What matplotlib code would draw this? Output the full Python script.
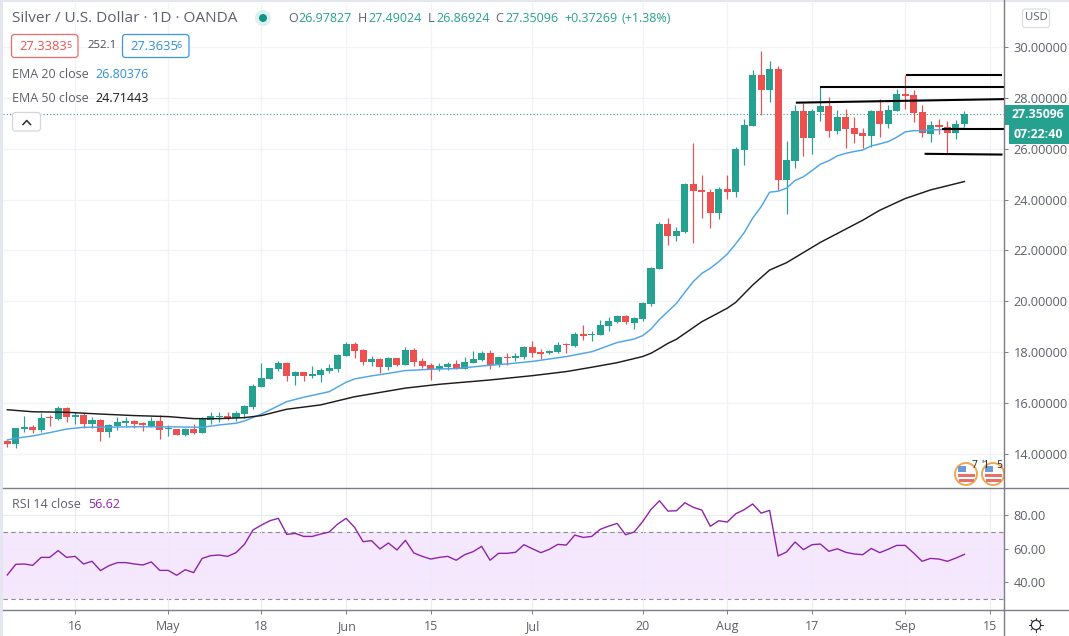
"""Silver / USD daily candles with EMA 20/50, hand-drawn levels and an RSI pane."""
import numpy as np
import matplotlib
matplotlib.use("Agg")
import matplotlib.pyplot as plt
from matplotlib.patches import Circle, FancyBboxPatch, Rectangle

plt.rcParams["font.family"] = ["Open Sans", "DejaVu Sans"]

opens = [14.50, 14.41, 15.00, 15.06, 14.94, 15.43, 15.38, 15.81, 15.45, 15.53,
         15.19, 15.34, 14.88, 15.10, 15.23, 15.30, 15.21, 15.11, 15.30, 14.97,
         14.98, 14.75, 14.98, 14.83, 15.34, 15.44, 15.48, 15.40, 15.57, 15.86,
         16.65, 16.96, 17.35, 17.58, 17.08, 17.22, 17.08, 17.12, 17.28, 17.35,
         17.87, 18.32, 18.09, 17.63, 17.74, 17.43, 17.77, 17.51, 18.09, 17.64,
         17.50, 17.34, 17.43, 17.54, 17.36, 17.59, 17.70, 17.97, 17.50, 17.83,
         17.79, 17.83, 18.19, 18.00, 17.96, 18.02, 18.31, 18.25, 18.71, 18.67,
         18.68, 19.03, 19.20, 19.43, 19.16, 19.31, 19.90, 21.29, 23.04, 22.58,
         22.73, 24.62, 24.38, 24.30, 23.49, 24.41, 24.30, 25.95, 26.90, 28.90,
         28.29, 29.14, 24.77, 25.53, 27.49, 26.44, 27.46, 27.68, 26.71, 27.24,
         26.80, 26.61, 26.50, 27.49, 26.97, 27.50, 28.15, 28.11, 27.45, 26.59,
         26.92, 26.84, 26.63, 26.98]
highs = [14.55, 15.04, 15.49, 15.14, 15.63, 15.53, 15.89, 15.83, 15.66, 15.63,
         15.44, 15.36, 15.16, 15.44, 15.44, 15.34, 15.27, 15.44, 15.52, 15.14,
         15.00, 15.01, 15.17, 15.47, 15.66, 15.66, 15.65, 15.70, 15.93, 16.75,
         17.59, 17.40, 17.67, 17.60, 17.28, 17.24, 17.46, 17.37, 17.54, 17.93,
         18.40, 18.42, 18.11, 17.85, 17.76, 17.80, 17.79, 18.19, 18.15, 17.77,
         17.56, 17.56, 17.63, 17.70, 17.83, 18.05, 18.05, 18.09, 17.81, 17.98,
         17.96, 18.25, 18.44, 18.12, 18.09, 18.42, 18.35, 18.80, 19.07, 18.84,
         19.27, 19.37, 19.48, 19.47, 19.40, 19.96, 21.37, 23.10, 23.29, 22.91,
         24.64, 26.24, 24.97, 24.41, 24.48, 24.97, 26.06, 27.17, 29.10, 29.84,
         29.43, 29.26, 26.31, 27.72, 27.79, 27.55, 28.44, 28.02, 27.53, 27.55,
         27.24, 26.80, 27.53, 27.94, 27.72, 28.35, 28.90, 28.31, 27.72, 27.07,
         27.17, 27.09, 27.13, 27.49]
lows = [14.29, 14.25, 14.88, 14.84, 14.88, 15.10, 15.34, 15.27, 15.18, 15.01,
        15.01, 14.51, 14.68, 14.94, 15.05, 15.01, 14.92, 15.05, 14.60, 14.71,
        14.73, 14.71, 14.80, 14.81, 15.18, 15.27, 15.34, 15.31, 15.40, 15.77,
        16.63, 16.94, 17.26, 16.87, 16.71, 16.87, 16.97, 16.84, 17.17, 17.24,
        17.85, 17.79, 17.50, 17.46, 17.20, 17.30, 17.47, 17.49, 17.47, 17.39,
        16.91, 17.28, 17.30, 17.33, 17.33, 17.56, 17.66, 17.33, 17.43, 17.49,
        17.67, 17.74, 17.83, 17.74, 17.93, 17.96, 17.98, 18.22, 18.48, 18.46,
        18.66, 18.85, 19.15, 19.10, 18.91, 19.24, 19.82, 21.27, 22.22, 22.37,
        22.68, 22.31, 23.29, 22.90, 23.25, 24.03, 24.12, 25.36, 26.88, 27.33,
        27.83, 24.38, 23.44, 25.26, 25.72, 25.78, 27.07, 26.45, 26.58, 26.02,
        26.21, 26.02, 26.06, 26.45, 26.80, 27.48, 27.56, 27.04, 26.48, 26.28,
        26.58, 25.80, 26.40, 26.87]
closes = [14.39, 15.01, 15.06, 14.94, 15.40, 15.40, 15.82, 15.45, 15.53, 15.18,
          15.34, 14.88, 15.14, 15.25, 15.30, 15.19, 15.14, 15.30, 14.96, 15.00,
          14.76, 14.98, 14.83, 15.40, 15.49, 15.48, 15.39, 15.60, 15.89, 16.67,
          16.99, 17.38, 17.58, 17.08, 17.22, 17.08, 17.13, 17.30, 17.38, 17.89,
          18.32, 18.06, 17.63, 17.74, 17.42, 17.77, 17.51, 18.09, 17.63, 17.47,
          17.34, 17.46, 17.54, 17.37, 17.60, 17.74, 17.96, 17.50, 17.80, 17.79,
          17.85, 18.19, 17.98, 17.94, 18.05, 18.27, 18.29, 18.72, 18.65, 18.72,
          19.07, 19.23, 19.43, 19.18, 19.35, 19.94, 21.33, 23.04, 22.58, 22.77,
          24.62, 24.35, 24.28, 23.49, 24.41, 24.31, 25.99, 26.94, 28.90, 28.29,
          29.14, 24.77, 25.56, 27.49, 26.44, 27.49, 27.68, 26.71, 27.24, 26.79,
          26.59, 26.50, 27.49, 26.97, 27.53, 28.15, 28.09, 27.42, 26.61, 26.94,
          26.84, 26.63, 26.97, 27.35]

ema20_idx = [0, 1, 3, 5, 7, 9, 11, 15, 19, 23, 25, 27, 28, 30, 31, 33, 35, 38, 40,
             41, 43, 45, 47, 50, 53, 57, 59, 62, 66, 69, 72, 74, 75, 76, 77, 79,
             80, 81, 82, 83, 84, 85, 86, 87, 88, 89, 90, 91, 92, 93, 94, 95, 96,
             97, 98, 99, 100, 101, 102, 103, 104, 105, 106, 107, 108, 109, 110,
             111, 112, 113]
ema20_val = [14.55, 14.62, 14.71, 14.84, 14.98, 15.05, 15.05, 15.07, 15.07, 15.05,
             15.14, 15.21, 15.30, 15.57, 15.73, 16.06, 16.23, 16.45, 16.82, 16.95,
             17.07, 17.17, 17.28, 17.33, 17.36, 17.49, 17.54, 17.64, 17.83, 18.02,
             18.38, 18.52, 18.65, 18.91, 19.29, 19.92, 20.36, 20.78, 21.10, 21.30,
             21.56, 21.86, 22.26, 22.70, 23.27, 23.72, 24.29, 24.33, 24.45, 24.75,
             24.90, 25.14, 25.39, 25.53, 25.72, 25.82, 25.89, 25.95, 26.11, 26.19,
             26.28, 26.45, 26.66, 26.71, 26.71, 26.74, 26.75, 26.76, 26.79, 26.80]
ema50_idx = [0, 3, 7, 11, 15, 19, 22, 25, 28, 30, 33, 37, 41, 47, 51, 57, 62, 66,
             69, 72, 75, 76, 77, 78, 79, 80, 82, 85, 86, 88, 90, 92, 94, 96, 101,
             103, 106, 109, 113]
ema50_val = [15.74, 15.66, 15.64, 15.57, 15.51, 15.47, 15.39, 15.39, 15.43, 15.51,
             15.76, 15.93, 16.25, 16.59, 16.74, 16.91, 17.08, 17.24, 17.41, 17.59,
             17.83, 17.96, 18.15, 18.35, 18.51, 18.74, 19.20, 19.73, 19.96, 20.64,
             21.23, 21.52, 21.92, 22.32, 23.19, 23.58, 24.04, 24.38, 24.71]

rsi_val = [44.4, 50.7, 50.9, 50.1, 54.8, 54.8, 58.8, 54.8, 55.4, 50.9,
           52.5, 47.0, 49.9, 51.7, 51.7, 50.9, 50.3, 52.1, 47.1, 47.1,
           44.2, 47.5, 45.8, 54.2, 55.8, 56.2, 55.4, 57.6, 62.5, 71.0,
           73.9, 76.5, 77.9, 68.4, 69.0, 67.2, 67.2, 68.6, 69.8, 74.5,
           77.9, 72.6, 64.1, 64.7, 59.8, 63.3, 59.2, 64.9, 57.4, 55.4,
           53.8, 54.8, 55.4, 53.1, 56.4, 58.2, 61.3, 53.1, 57.2, 57.2,
           57.8, 62.3, 59.9, 57.6, 59.6, 62.5, 62.1, 68.0, 66.6, 67.2,
           71.4, 73.3, 74.9, 68.2, 69.8, 75.9, 83.2, 88.3, 82.2, 82.4,
           87.1, 84.4, 82.8, 73.2, 76.5, 75.7, 80.6, 83.0, 86.4, 81.0,
           82.6, 55.6, 58.0, 63.9, 59.4, 62.3, 62.7, 58.4, 59.9, 57.8,
           56.8, 56.4, 60.1, 57.6, 59.6, 61.9, 61.9, 57.4, 52.5, 54.2,
           53.8, 52.5, 54.4, 56.62]

# hand-drawn levels: (start idx, end idx, start price, end price)
level_x0 = [106.07, 96.0, 93.1, 110.4, 108.3]
level_x1 = [117.4, 117.7, 117.7, 117.7, 117.5]
level_p0 = [28.88, 28.44, 27.81, 26.79, 25.80]
level_p1 = [28.88, 28.44, 27.95, 26.79, 25.77]

date_tick_idx = [8, 19, 30, 40, 50, 62, 75, 85, 95, 106, 116]
date_tick_labels = ["16", "May", "18", "Jun", "15", "Jul", "20", "Aug", "17", "Sep", "15"]
price_ticks = [14, 16, 18, 20, 22, 24, 26, 28, 30]
rsi_ticks = [40, 60, 80]

GREEN = "#26a08f"
RED = "#ec5150"
BLUE = "#4ea5ea"
GRID = "#f1f3f9"
AXIS = "#7b7d88"
LABEL = "#5d606b"
PURPLE = "#8e24aa"
W, H = 1069, 636


def pane(fig, left, top, right, bottom):
    return fig.add_axes([left / W, 1 - bottom / H, (right - left) / W, (bottom - top) / H])


fig = plt.figure(figsize=(W / 100, H / 100), dpi=100, facecolor="white")
ax = pane(fig, 3, 3, 1003.7, 487.5)
ax_rsi = pane(fig, 3, 487.5, 1003.7, 610.2)

idx = np.arange(len(closes))
o, h, l, c = map(np.array, (opens, highs, lows, closes))
colors = [GREEN if cl >= op else RED for op, cl in zip(o, c)]

for a in (ax, ax_rsi):
    a.set_xlim(-0.508, 117.64)
    a.set_xticks(date_tick_idx)
    a.grid(True, color=GRID, lw=0.9)
    a.set_axisbelow(True)
    a.yaxis.tick_right()
    a.tick_params(axis="y", length=3, width=0.7, color=AXIS, labelcolor=LABEL, labelsize=9.2, pad=4)
    for side in a.spines:
        a.spines[side].set_visible(False)

# candles
ax.vlines(idx, l, h, colors=colors, lw=0.85, zorder=3)
ax.bar(idx, np.maximum(np.abs(c - o), 0.04), bottom=np.minimum(o, c), width=0.83,
       color=colors, linewidth=0, zorder=4)
ax.plot(ema20_idx, ema20_val, color=BLUE, lw=1.05, zorder=5)
ax.plot(ema50_idx, ema50_val, color="#1c1c1c", lw=1.05, zorder=5)
ax.axhline(closes[-1], color=GREEN, lw=0.8, ls=(0, (1, 2)), zorder=2)
for x0, x1, p0, p1 in zip(level_x0, level_x1, level_p0, level_p1):
    ax.plot([x0, x1], [p0, p1], color="black", lw=1.5, zorder=6, solid_capstyle="butt")

ax.set_ylim(14 - 33.5 / 25.44, 14 + 451 / 25.44)
ax.set_yticks(price_ticks)
ax.set_yticklabels([f"{p:.5f}" for p in price_ticks])
ax.tick_params(axis="x", length=0, labelbottom=False)

# RSI pane
ax_rsi.axhspan(30, 70, color="#f5e8fe", lw=0, zorder=1)
ax_rsi.axhline(70, color="#8a8c96", lw=0.8, ls=(0, (4, 3)), zorder=2)
ax_rsi.axhline(30, color="#8a8c96", lw=0.8, ls=(0, (4, 3)), zorder=2)
ax_rsi.plot(idx, rsi_val, color=PURPLE, lw=1.0, zorder=4)
ax_rsi.set_ylim(70 - (610.2 - 531.7) / 1.69, 70 + (531.7 - 487.5) / 1.69)
ax_rsi.set_yticks(rsi_ticks)
ax_rsi.set_yticklabels([f"{r:.2f}" for r in rsi_ticks])
ax_rsi.set_xticklabels(date_tick_labels)
ax_rsi.tick_params(axis="x", length=3, width=0.7, color=AXIS, labelcolor=LABEL, labelsize=9.0, pad=4)
ax_rsi.set_axisbelow(False)
ax_rsi.grid(True, color="#eceaf3", lw=0.8, zorder=1.5)

# overlay in pixel coordinates for the chart furniture
ov = fig.add_axes([0, 0, 1, 1], zorder=10)
ov.set_xlim(0, W)
ov.set_ylim(H, 0)
ov.axis("off")


def txt(x, y, s, color=LABEL, size=9.2, **kw):
    ov.text(x, y, s, color=color, fontsize=size, va="center", ha=kw.pop("ha", "left"), **kw)


def box(x0, y0, x1, y1, edge, face="white", lw=0.9):
    ov.add_patch(FancyBboxPatch((x0, y0), x1 - x0, y1 - y0, boxstyle="round,pad=0,rounding_size=3",
                                fc=face, ec=edge, lw=lw, mutation_aspect=1))


# frame strips and pane borders
ov.add_patch(Rectangle((0, 0), W, 1.5, fc="#e4e6f0", lw=0))
ov.add_patch(Rectangle((0, 0), 2.5, H, fc="#e4e6f0", lw=0))
ov.plot([2.5, W], [487.5, 487.5], color=AXIS, lw=1.0)
ov.plot([2.5, W], [610.2, 610.2], color=AXIS, lw=1.0)
ov.plot([1003.7, 1003.7], [0, H], color=AXIS, lw=1.0)

# legend block
txt(12, 18, "Silver / U.S. Dollar · 1D · OANDA", size=11.1)
ov.add_patch(Circle((263, 18), 8, fc="#dcf1ee", lw=0))
ov.add_patch(Circle((263, 18), 4, fc="#0f9488", lw=0))
for x, s, col in [(288, "O", LABEL), (298, "26.97827", GREEN), (358, "H", LABEL), (368, "27.49024", GREEN),
                  (428, "L", LABEL), (436, "26.86924", GREEN), (495, "C", LABEL), (505, "27.35096", GREEN),
                  (564, "+0.37269", GREEN), (622, "(+1.38%)", GREEN)]:
    txt(x, 19, s, color=col, size=9.0)
box(11.5, 34.5, 78, 57.5, "#ef6a6a")
txt(19, 46.5, "27.3383", color=RED, size=9.4)
txt(66, 45, "5", color=RED, size=6.5)
txt(87, 46, "252.1", color="#4a4c55", size=8.2)
box(122.5, 34.5, 189, 57.5, "#3a97e6")
txt(130, 46.5, "27.3635", color="#2f8fe0", size=9.4)
txt(176.5, 45, "6", color="#2f8fe0", size=6.5)
txt(12, 74.5, "EMA 20 close", size=9.0)
txt(95, 74.5, "26.80376", color="#2f8fe0", size=9.0)
txt(12, 98.5, "EMA 50 close", size=9.0)
txt(95, 98.5, "24.71443", color="#1c1c1c", size=9.0)
box(12.5, 112.5, 40.5, 131, "#d5d7df")
ov.plot([23, 26.7, 30.5], [124.5, 120.5, 124.5], color="#2a2e39", lw=1.1)
txt(12, 505, "RSI 14 close", size=9.0)
txt(88, 505, "56.62", color=PURPLE, size=9.0)

# last price and countdown tags
box(1022.5, 9, 1049.5, 27.5, "#dcdee5")
txt(1036, 18, "USD", size=8.2, ha="center")
ov.add_patch(Rectangle((1003.5, 105), 65.5, 20, fc=GREEN, lw=0))
txt(1012, 114.5, "27.35096", color="white", size=8.8, fontweight="bold")
ov.add_patch(Rectangle((1009, 125), 60, 19, fc=GREEN, lw=0))
txt(1013.5, 134.5, "07:22:40", color="white", size=8.8, fontweight="bold")

# event flags, clipped by the price axis
flag_clip = Rectangle((950, 455), 53.5, 32.5, transform=ov.transData)
for cx in (966, 993):
    ring = Circle((cx, 474), 11, fc="white", ec="#f0a850", lw=1.4)
    blue = Rectangle((cx - 8, 466), 8, 6, fc="#6e9bd8", lw=0)
    red1 = Rectangle((cx - 8, 474), 17, 2.5, fc="#e8706a", lw=0)
    red2 = Rectangle((cx - 7, 479), 15, 2.5, fc="#e8706a", lw=0)
    for p in (ring, blue, red1, red2):
        ov.add_patch(p)
        p.set_clip_path(flag_clip)
for x, s in [(974, "7"), (985, "'1"), (999, "5")]:
    txt(x, 466, s, color="#222222", size=7.5, ha="center")

# settings icon at the bottom right
ov.add_patch(Circle((1036, 625), 4.6, fc="white", ec="#2a2e39", lw=0.9))
for ang in np.deg2rad(np.arange(0, 360, 45)):
    ov.plot([1036 + 4.6 * np.cos(ang), 1036 + 6.8 * np.cos(ang)],
            [625 + 4.6 * np.sin(ang), 625 + 6.8 * np.sin(ang)], color="#2a2e39", lw=0.7)

fig.savefig("out.png", dpi=100)
